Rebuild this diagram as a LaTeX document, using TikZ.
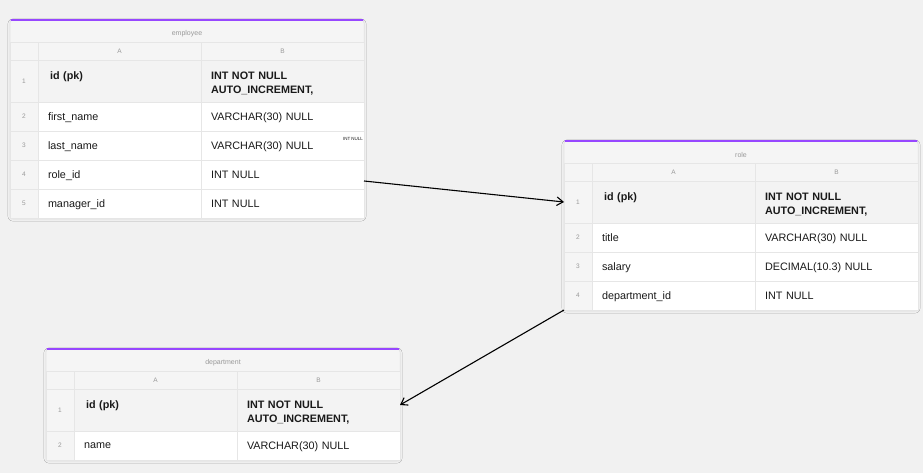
\documentclass[tikz,border=0pt]{standalone}
\usepackage{fontspec}
\setmainfont{Liberation Sans}
\usepackage{tikz}
\usepackage{xcolor}
\usetikzlibrary{
    arrows.meta,
    positioning,
    calc,
    shadows.blur
}
\definecolor{canvas}{HTML}{F1F1F1}
\definecolor{tablegray}{HTML}{F5F5F5}
\definecolor{pkgray}{HTML}{F3F3F3}
\definecolor{gridline}{HTML}{E6E6E6}
\definecolor{frameline}{HTML}{E2E2E2}
\definecolor{accent}{HTML}{9747FF}
\definecolor{dark}{HTML}{1A1A1A}
\definecolor{muted}{HTML}{999999}
\tikzset{
    % Outer table frame
    tableframe/.style={
        rectangle,
        rounded corners=3pt,
        minimum width=354pt,
        draw=frameline,
        fill=tablegray,
        line width=0.5pt,
        outer sep=0pt,
        blur shadow={shadow blur steps=5, shadow xshift=0pt, shadow yshift=-1pt, shadow opacity=8}
    },
    % Purple line on top of each table
    topbar/.style={
        line width=2.5pt,
        line cap=round,
        color=accent
    },
    % Table name
    tabletitle/.style={
        font=\fontsize{7}{8}\selectfont,
        text=muted
    },
    % Column letter cells
    colhead/.style={
        rectangle,
        minimum width=163pt,
        minimum height=18pt,
        inner sep=0pt,
        outer sep=0pt,
        draw=gridline,
        fill=tablegray,
        font=\fontsize{6.5}{7}\selectfont,
        text=muted
    },
    % Row number cells
    numcell/.style={
        rectangle,
        minimum width=28pt,
        minimum height=#1,
        inner sep=0pt,
        outer sep=0pt,
        draw=gridline,
        fill=tablegray,
        font=\fontsize{6.5}{7}\selectfont,
        text=muted
    },
    numcell/.default=29pt,
    % Data cells
    cell/.style={
        rectangle,
        minimum width=163pt,
        minimum height=29pt,
        text width=143pt,
        text depth=0pt,
        align=left,
        inner xsep=10pt,
        inner ysep=0pt,
        outer sep=0pt,
        draw=gridline,
        fill=white,
        font=\fontsize{10.8}{14}\selectfont,
        text=dark
    },
    % Primary key cells
    pkcell/.style={
        cell,
        minimum height=42pt,
        text depth=10pt,
        fill=pkgray,
        font=\fontsize{10.8}{14}\selectfont\bfseries
    },
    % Relation arrows
    relation/.style={
        -{Straight Barb[length=2.2mm, width=3mm]},
        line width=1.1pt,
        color=black
    }
}
\begin{document}
\begin{tikzpicture}[x=1pt, y=-1pt, node distance=0pt]

    % Canvas
    \fill[canvas] (0,0) rectangle (923,473);
    \useasboundingbox (0,0) rectangle (923,473);

    % employee table
    \node[tableframe, minimum height=198pt, anchor=north west] (emp) at (10,20) {};
    \node[tabletitle] (emptitle) at ([yshift=-13.5pt]emp.north) {employee};
    \node[numcell=18pt, anchor=north west] (emp0n) at ([yshift=-22pt]emp.north west) {};
    \node[colhead, right=of emp0n] (emp0a) {A};
    \node[colhead, right=of emp0a] (emp0b) {B};
    \node[numcell=42pt, below=of emp0n] (emp1n) {1};
    \node[pkcell, right=of emp1n] (emp1a) {\hspace{2pt}id (pk)\\\mbox{}};
    \node[pkcell, right=of emp1a] (emp1b) {INT NOT NULL\\AUTO\_INCREMENT,};
    \node[numcell, below=of emp1n] (emp2n) {2};
    \node[cell, right=of emp2n] (emp2a) {first\_name};
    \node[cell, right=of emp2a] (emp2b) {VARCHAR(30) NULL};
    \node[numcell, below=of emp2n] (emp3n) {3};
    \node[cell, right=of emp3n] (emp3a) {last\_name};
    \node[cell, right=of emp3a] (emp3b) {VARCHAR(30) NULL};
    \node[numcell, below=of emp3n] (emp4n) {4};
    \node[cell, right=of emp4n] (emp4a) {role\_id};
    \node[cell, right=of emp4a] (emp4b) {INT NULL};
    \node[numcell, below=of emp4n] (emp5n) {5};
    \node[cell, right=of emp5n] (emp5a) {manager\_id};
    \node[cell, right=of emp5a] (emp5b) {INT NULL};
    \draw[topbar] ([xshift=1.5pt]emp.north west) -- ([xshift=-1.5pt]emp.north east);
    \node[font=\fontsize{4.5}{5}\selectfont, text=dark, inner sep=0pt] (strayint) at (353,139) {INT NULL};

    % role table
    \node[tableframe, minimum height=169pt, anchor=north west] (role) at (564,141) {};
    \node[tabletitle] (roletitle) at ([yshift=-13.5pt]role.north) {role};
    \node[numcell=18pt, anchor=north west] (role0n) at ([yshift=-22pt]role.north west) {};
    \node[colhead, right=of role0n] (role0a) {A};
    \node[colhead, right=of role0a] (role0b) {B};
    \node[numcell=42pt, below=of role0n] (role1n) {1};
    \node[pkcell, right=of role1n] (role1a) {\hspace{2pt}id (pk)\\\mbox{}};
    \node[pkcell, right=of role1a] (role1b) {INT NOT NULL\\AUTO\_INCREMENT,};
    \node[numcell, below=of role1n] (role2n) {2};
    \node[cell, right=of role2n] (role2a) {title};
    \node[cell, right=of role2a] (role2b) {VARCHAR(30) NULL};
    \node[numcell, below=of role2n] (role3n) {3};
    \node[cell, right=of role3n] (role3a) {salary};
    \node[cell, right=of role3a] (role3b) {DECIMAL(10.3) NULL};
    \node[numcell, below=of role3n] (role4n) {4};
    \node[cell, right=of role4n] (role4a) {department\_id};
    \node[cell, right=of role4a] (role4b) {INT NULL};
    \draw[topbar] ([xshift=1.5pt]role.north west) -- ([xshift=-1.5pt]role.north east);

    % department table
    \node[tableframe, minimum height=111pt, anchor=north west] (dept) at (46,349) {};
    \node[tabletitle] (depttitle) at ([yshift=-13.5pt]dept.north) {department};
    \node[numcell=18pt, anchor=north west] (dept0n) at ([yshift=-22pt]dept.north west) {};
    \node[colhead, right=of dept0n] (dept0a) {A};
    \node[colhead, right=of dept0a] (dept0b) {B};
    \node[numcell=42pt, below=of dept0n] (dept1n) {1};
    \node[pkcell, right=of dept1n] (dept1a) {\hspace{2pt}id (pk)\\\mbox{}};
    \node[pkcell, right=of dept1a] (dept1b) {INT NOT NULL\\AUTO\_INCREMENT,};
    \node[numcell, below=of dept1n] (dept2n) {2};
    \node[cell, right=of dept2n] (dept2a) {name};
    \node[cell, right=of dept2a] (dept2b) {VARCHAR(30) NULL};
    \draw[topbar] ([xshift=1.5pt]dept.north west) -- ([xshift=-1.5pt]dept.north east);

    % Relations
    \draw[relation] ([yshift=-6.5pt]emp4b.east) -- (role1n.west);
    \draw[relation] (role.south west) -- ([yshift=5pt]dept1b.east);

\end{tikzpicture}
\end{document}
